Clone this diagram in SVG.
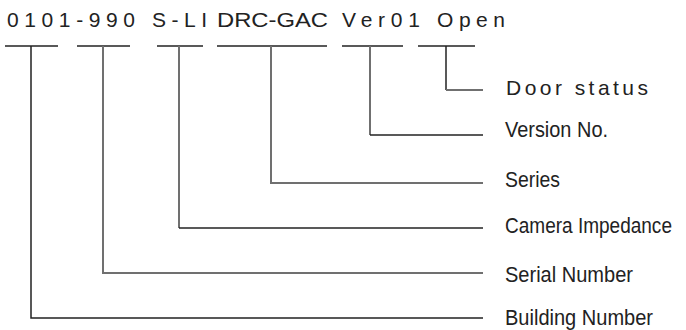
<svg xmlns="http://www.w3.org/2000/svg" width="686" height="330" viewBox="0 0 686 330">
<style>
.code{font-family:"Liberation Sans",Arial,sans-serif;font-size:21px;fill:#222}
.lbl{font-family:"Liberation Sans",Arial,sans-serif;font-size:22px;fill:#222}
.k{fill:none;stroke:#222;stroke-width:1.5}
.g{fill:none;stroke:#707070;stroke-width:2}
</style>
<rect width="686" height="330" fill="#fff"/>
<g id="code">
<text class="code" x="7" y="27" textLength="128" lengthAdjust="spacing">0101-990</text>
<text class="code" x="152" y="27" textLength="55" lengthAdjust="spacing">S-LI</text>
<text class="code" x="217" y="27" textLength="111" lengthAdjust="spacingAndGlyphs">DRC-GAC</text>
<text class="code" x="342" y="27" textLength="78" lengthAdjust="spacing">Ver01</text>
<text class="code" x="437" y="27" textLength="68" lengthAdjust="spacing">Open</text>
</g>
<g id="underlines">
<line class="k" x1="5" y1="46" x2="58" y2="46"/>
<line class="k" x1="77" y1="46" x2="130" y2="46"/>
<line class="k" x1="157" y1="46" x2="203" y2="46"/>
<line class="k" x1="217" y1="46" x2="327" y2="46"/>
<line class="k" x1="342" y1="46" x2="403" y2="46"/>
<line class="k" x1="418" y1="46" x2="475" y2="46"/>
</g>
<g id="connectors">
<polyline class="k" points="446,46 446,90"/><line class="g" x1="446" y1="90" x2="483" y2="90"/>
<polyline class="g" points="370,46 370,135"/><line class="k" x1="370" y1="135" x2="483" y2="135"/>
<polyline class="g" points="271,46 271,183 483,183"/>
<polyline class="g" points="179,46 179,228"/><line class="k" x1="179" y1="228" x2="483" y2="228"/>
<polyline class="g" points="103,46 103,273 483,273"/>
<polyline class="k" points="31,46 31,318 483,318"/>
</g>
<g id="door-status"><text class="code" x="506" y="95" textLength="142" lengthAdjust="spacing">Door status</text></g>
<g id="version-no"><text class="lbl" x="505" y="137" textLength="103" lengthAdjust="spacingAndGlyphs">Version No.</text></g>
<g id="series"><text class="lbl" x="505" y="187" textLength="55" lengthAdjust="spacingAndGlyphs">Series</text></g>
<g id="camera-impedance"><text class="lbl" transform="translate(505,233) scale(0.865,1)" x="0" y="0">Camera Impedance</text></g>
<g id="serial-number"><text class="lbl" x="505" y="282" textLength="128" lengthAdjust="spacingAndGlyphs">Serial Number</text></g>
<g id="building-number"><text class="lbl" x="505" y="325" textLength="148" lengthAdjust="spacingAndGlyphs">Building Number</text></g>
</svg>
